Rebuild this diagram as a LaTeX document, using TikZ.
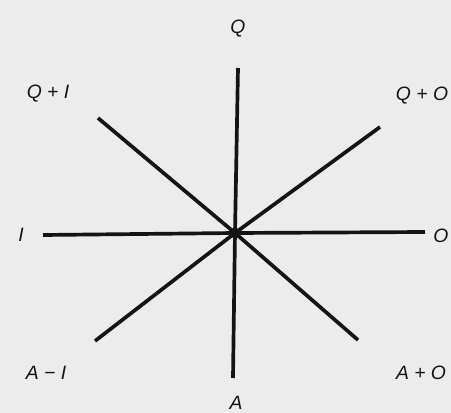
\documentclass[tikz,border=0pt]{standalone}
\usepackage{fontspec}
\setsansfont{Liberation Sans}
\usetikzlibrary{positioning,calc}
\definecolor{paper}{HTML}{ECECEC}
\definecolor{inkB}{HTML}{141414}
\tikzset{
  axe/.style={draw=inkB, line width=2.1pt},
  lbl/.style={font=\sffamily\itshape\fontsize{11}{13}\selectfont, text=inkB, inner sep=0pt},
}

\begin{document}
\begin{tikzpicture}[x=0.02cm, y=-0.02cm]
    \fill[paper] (0,0) rectangle (451,413);
    \useasboundingbox (0,0) rectangle (451,413);
    % centre and end points
    \coordinate (c) at (235,233);
    \coordinate (eQ) at (238,68);
    \coordinate (eA) at (233,378);
    \coordinate (eI) at (43,235);
    \coordinate (eO) at (425,232);
    \coordinate (eQI) at (98,118);
    \coordinate (eQO) at (380,127);
    \coordinate (eAI) at (95,341);
    \coordinate (eAO) at (358,340);
    % labels
    \node[lbl] (nQ) at (238,29) {Q};
    \node[lbl] (nQI) at (48,94) {Q + I};
    \node[lbl] (nQO) at (422,96) {Q + O};
    \node[lbl] (nI) at (21,235) {I};
    \node[lbl] (nO) at (441,236) {O};
    \node[lbl] (nAI) at (46,373) {A − I};
    \node[lbl] (nA) at (236,403) {A};
    \node[lbl] (nAO) at (421,373) {A + O};
    % axes
    \draw[axe] (c) -- (eQ);
    \draw[axe] (c) -- (eA);
    \draw[axe] (c) -- (eI);
    \draw[axe] (c) -- (eO);
    \draw[axe] (c) -- (eQI);
    \draw[axe] (c) -- (eQO);
    \draw[axe] (c) -- (eAI);
    \draw[axe] (c) -- (eAO);
    \fill[inkB] (c) circle (5.5);
\end{tikzpicture}
\end{document}
